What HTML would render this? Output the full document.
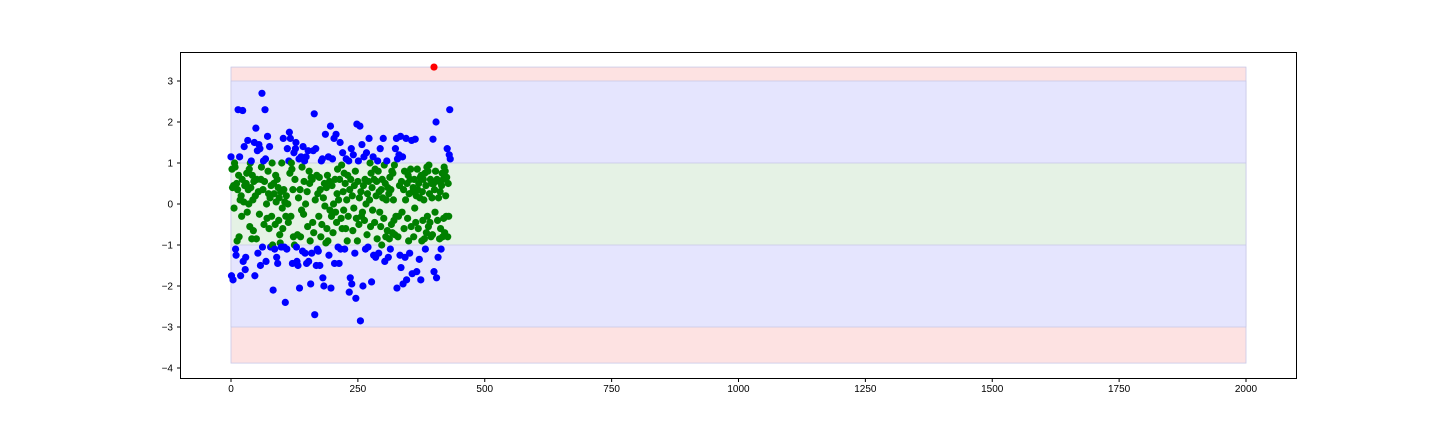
<!DOCTYPE html>
<html><head><meta charset="utf-8"><style>
html,body{margin:0;padding:0;background:#fff;width:1440px;height:432px;overflow:hidden}
text{font-family:"Liberation Sans","DejaVu Sans",sans-serif;font-size:10px;fill:#000}
</style></head><body>
<svg id="chart" width="1440" height="432" xmlns="http://www.w3.org/2000/svg">
<g id="bands"></g>
<g id="points"></g>
<rect x="180.5" y="52.5" width="1116" height="326" fill="none" stroke="#000" stroke-width="1"/>
<g id="xaxis"></g>
<g id="yaxis"></g>
</svg>
<script>
const xTicks=[0,250,500,750,1000,1250,1500,1750,2000];
const yTicks=[3,2,1,0,-1,-2,-3,-4];
const bandDefs=[[-3.88,3.34,"#fde2e2"],[-3,3,"#e5e5fe"],[-1,1,"#e5f2e5"]];
const bandX=[0,2000];
const values=[1.15,-1.75,0.85,0.4,-1.85,0.45,-0.1,1.0,0.9,-1.1,
-1.25,0.5,-0.9,0.35,2.3,0.7,-0.8,1.15,0.1,-1.75,
0.2,-0.3,0.6,2.28,-1.4,0.05,1.4,0.45,-1.6,-1.3,
0.5,0.75,-0.2,1.55,0.35,0.0,0.85,-0.55,1.0,0.4,
1.05,-0.85,0.7,0.1,-0.65,0.55,1.5,-1.75,0.2,1.85,
-0.85,0.6,1.3,-1.2,0.3,1.45,-0.25,1.35,-1.5,0.6,
0.9,2.7,-1.05,0.35,1.05,-0.5,0.55,2.3,1.1,-1.4,
0.0,-0.35,1.65,0.8,0.25,-0.6,1.4,0.15,-1.05,0.45,
-0.3,1.0,-1.0,-2.1,0.5,0.25,-1.1,-0.5,0.7,0.05,
-1.3,0.6,-1.45,0.4,-0.4,0.15,-0.75,-0.95,0.3,-1.05,
1.0,-0.1,-0.6,1.6,0.35,-1.05,0.05,-2.4,-0.3,0.2,
-1.1,1.35,0.0,-0.45,1.05,1.75,0.75,1.6,-0.3,1.0,
0.85,-1.45,0.35,-0.8,1.25,-1.0,0.6,1.35,1.5,-1.05,
-1.4,-0.75,-1.5,0.15,1.1,-2.05,0.35,-0.8,1.15,-0.15,
0.9,-1.15,1.4,-0.25,0.55,1.05,-1.2,0.0,1.15,-1.45,
0.3,-0.55,1.3,-1.4,0.8,0.5,-0.9,-1.95,0.65,-1.2,
0.6,-0.45,1.3,-0.7,2.2,-2.7,0.1,1.35,-1.5,0.7,
-1.1,0.25,-1.15,-0.3,0.65,-1.5,0.35,-0.8,1.05,-0.5,
1.1,-1.8,0.15,-2.0,0.5,-0.05,1.7,-0.95,0.4,-0.6,
0.7,-0.9,1.15,-1.25,0.55,-0.15,1.9,-2.05,-0.3,0.45,
1.1,-0.7,0.0,1.6,-1.45,0.6,-0.2,1.7,-0.45,0.25,
0.85,-1.05,0.1,-1.45,0.6,1.5,-1.1,-0.35,0.95,-0.6,
1.25,0.3,-0.15,0.75,-1.1,0.5,-0.6,1.1,0.1,-0.9,
0.7,-0.3,1.05,-2.15,0.35,-1.8,0.6,1.35,-1.95,0.2,
-0.65,1.2,-0.1,0.45,-1.2,0.8,-2.3,-0.35,1.95,-0.9,
0.55,1.05,-0.5,0.15,1.9,-2.85,0.3,-0.3,1.45,-0.2,
-2.0,0.45,1.15,-0.4,0.6,-1.1,0.0,1.25,-0.75,0.25,
-1.05,0.55,1.6,0.1,1.0,-0.55,0.75,-1.9,0.4,-0.15,
1.15,-1.25,0.6,-0.45,0.85,-1.3,0.2,0.55,-0.85,1.05,
0.8,-1.2,0.3,-0.2,1.35,-0.55,0.35,-1.0,0.6,0.15,
1.6,-0.35,0.95,-1.4,0.5,-0.8,0.1,1.05,-0.65,0.4,
-1.3,0.25,-0.85,0.65,-1.1,0.35,-0.5,0.8,-0.7,0.75,
0.1,-0.4,0.95,-0.75,1.35,-0.3,1.6,-2.05,1.1,-0.8,
-0.3,1.2,0.45,-1.25,1.65,-1.55,0.55,-0.2,1.15,-1.95,
0.35,-0.6,0.8,-1.3,0.1,1.6,-1.85,0.5,-0.35,0.7,
-0.9,0.25,-1.2,0.6,0.85,-0.55,1.55,-1.7,0.3,0.4,
-0.8,0.6,-0.1,1.58,-0.45,0.2,-1.65,0.85,0.35,-0.6,
0.5,-1.35,0.15,0.65,-1.85,0.7,-0.9,0.3,-0.4,0.6,
0.1,-0.85,0.75,-1.1,0.45,-0.7,0.9,-0.3,0.8,-0.55,
0.95,0.25,-0.45,0.6,-0.8,0.5,0.15,-0.75,1.58,0.5,
-1.65,0.35,-0.2,0.8,2.0,-1.8,0.6,-0.4,-1.3,0.15,
0.55,-0.85,0.3,-0.6,-1.1,0.45,0.75,-0.8,0.6,-0.35,
0.9,-0.7,0.8,0.2,-0.3,0.65,1.35,-0.8,0.5,-0.3,
1.2,2.3,1.1];
const redIdx=[400];const redVal=[3.34];
const NS="http://www.w3.org/2000/svg";
const X0=180.5,X1=1296.5,Y0=52.5,Y1=378.5;
function sx(v){return 231+v*0.5075;}
function sy(v){return 204-v*41;}
const bands=document.getElementById('bands');
bandDefs.forEach(b=>{const r=document.createElementNS(NS,'rect');


r.setAttribute('x',sx(bandX[0]));r.setAttribute('width',sx(bandX[1])-sx(bandX[0]));
r.setAttribute('y',sy(b[1]));r.setAttribute('height',sy(b[0])-sy(b[1]));
r.setAttribute('fill',b[2]);r.setAttribute('stroke','#c8c8e8');r.setAttribute('stroke-width','0.8');bands.appendChild(r);});
const pts=document.getElementById('points');
function dot(x,y,c){const ci=document.createElementNS(NS,'circle');


ci.setAttribute('cx',sx(x));ci.setAttribute('cy',sy(y));ci.setAttribute('r',3.6);ci.setAttribute('fill',c);pts.appendChild(ci);}
values.forEach((v,i)=>{const a=Math.abs(v);dot(i,v,a<=1?'#008000':(a<=3?'#0000ff':'#ff0000'));});
redIdx.forEach((x,i)=>dot(x,redVal[i],'#ff0000'));
const xa=document.getElementById('xaxis');
xTicks.forEach(t=>{const x=sx(t);const l=document.createElementNS(NS,'line');


l.setAttribute('x1',x);l.setAttribute('x2',x);l.setAttribute('y1',Y1);l.setAttribute('y2',Y1+3.5);l.setAttribute('stroke','#000');xa.appendChild(l);
const tx=document.createElementNS(NS,'text');


tx.setAttribute('x',x);tx.setAttribute('y',392);tx.setAttribute('text-anchor','middle');tx.textContent=t;xa.appendChild(tx);});
const ya=document.getElementById('yaxis');
yTicks.forEach(t=>{const y=sy(t);const l=document.createElementNS(NS,'line');


l.setAttribute('x1',X0-3.5);l.setAttribute('x2',X0);l.setAttribute('y1',y);l.setAttribute('y2',y);l.setAttribute('stroke','#000');ya.appendChild(l);
const tx=document.createElementNS(NS,'text');


tx.setAttribute('x',173);tx.setAttribute('y',y+3.5);tx.setAttribute('text-anchor','end');tx.textContent=(t<0?'\u2212'+(-t):t);ya.appendChild(tx);});
</script>
</body></html>
